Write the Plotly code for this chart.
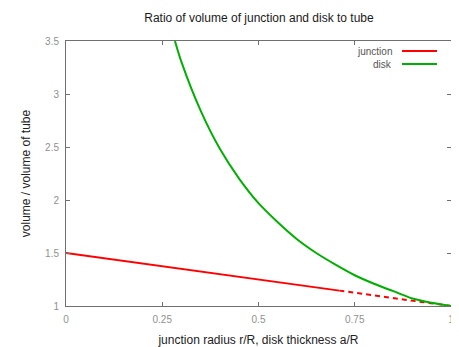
import plotly.graph_objects as go

# data
disk_x = [0.283, 0.30, 0.35, 0.40, 0.45, 0.50, 0.55, 0.60, 0.65, 0.70, 0.75, 0.80, 0.85, 0.90, 0.95, 1.00]
disk_y = [3.50, 3.30, 2.84, 2.48, 2.20, 1.97, 1.79, 1.63, 1.50, 1.39, 1.29, 1.21, 1.14, 1.07, 1.03, 1.00]
junction_solid_x = [0.0, 0.71]
junction_solid_y = [1.5, 1.145]
junction_dash_x = [0.71, 1.0]
junction_dash_y = [1.145, 1.0]
x_ticks = [0, 0.25, 0.5, 0.75, 1]
x_tick_labels = ["0", "0.25", "0.5", "0.75", "1"]
y_ticks = [1, 1.5, 2, 2.5, 3, 3.5]
y_tick_labels = ["1", "1.5", "2", "2.5", "3", "3.5"]

RED = "#ff0000"
GREEN = "#00b000"
FONT = "Liberation Sans, Arial, sans-serif"

# page body has an 8px margin: figure sits at (8, 8) in the window
OFF = 8
W, H = 459 - OFF, 347 - OFF
L, R, T, B = 66 - OFF, 8, 41 - OFF, 41

fig = go.Figure()
fig.add_trace(go.Scatter(x=junction_solid_x, y=junction_solid_y, mode="lines",
                         line=dict(color=RED, width=2), showlegend=False))
fig.add_trace(go.Scatter(x=junction_dash_x, y=junction_dash_y, mode="lines",
                         line=dict(color=RED, width=2, dash="5px,4px"), showlegend=False))
fig.add_trace(go.Scatter(x=disk_x, y=disk_y, mode="lines",
                         line=dict(color=GREEN, width=2, shape="spline", smoothing=0.8),
                         showlegend=False))

axis_common = dict(showgrid=False, zeroline=False, showline=True, linecolor="#707070",
                   linewidth=1, mirror="ticks", ticks="inside", ticklen=4,
                   tickcolor="#707070", automargin=False, ticklabelstandoff=4,
                   tickfont=dict(size=10, color="#909090", family=FONT))

fig.update_layout(
    width=W, height=H,
    margin=dict(l=L, r=R, t=T, b=B),
    paper_bgcolor="white", plot_bgcolor="white",
    font=dict(family=FONT, size=11, color="#222222"),
    title=dict(text="Ratio of volume of junction and disk to tube",
               x=(259 - OFF) / W, xanchor="center",
               y=1 - (18 - OFF) / H, yanchor="middle", font=dict(size=12, color="#1a1a1a")),
    xaxis=dict(range=[0, 1], tickvals=x_ticks, ticktext=x_tick_labels,
               title=dict(text="junction radius r/R, disk thickness a/R", standoff=13,
                          font=dict(size=12)), **axis_common),
    yaxis=dict(range=[1, 3.5], tickvals=y_ticks, ticktext=y_tick_labels,
               title=dict(text="volume / volume of tube", standoff=11, font=dict(size=12)),
               **axis_common),
)

# legend drawn as text + sample lines in paper coordinates (window pixels in)
def px_x(p):
    return (p - 66) / (W - L - R)

def px_y(p):
    return 1 - (p - 41) / (H - T - B)

for label, color, ypix in [("junction", RED, 51), ("disk", GREEN, 64)]:
    fig.add_annotation(x=px_x(394), y=px_y(ypix), xref="paper", yref="paper",
                       text=label, showarrow=False, xanchor="right", yanchor="middle",
                       font=dict(size=10, color="#555555", family=FONT))
    fig.add_shape(type="line", xref="paper", yref="paper",
                  x0=px_x(402), x1=px_x(437), y0=px_y(ypix), y1=px_y(ypix),
                  line=dict(color=color, width=2))

fig.write_html("out.html")
